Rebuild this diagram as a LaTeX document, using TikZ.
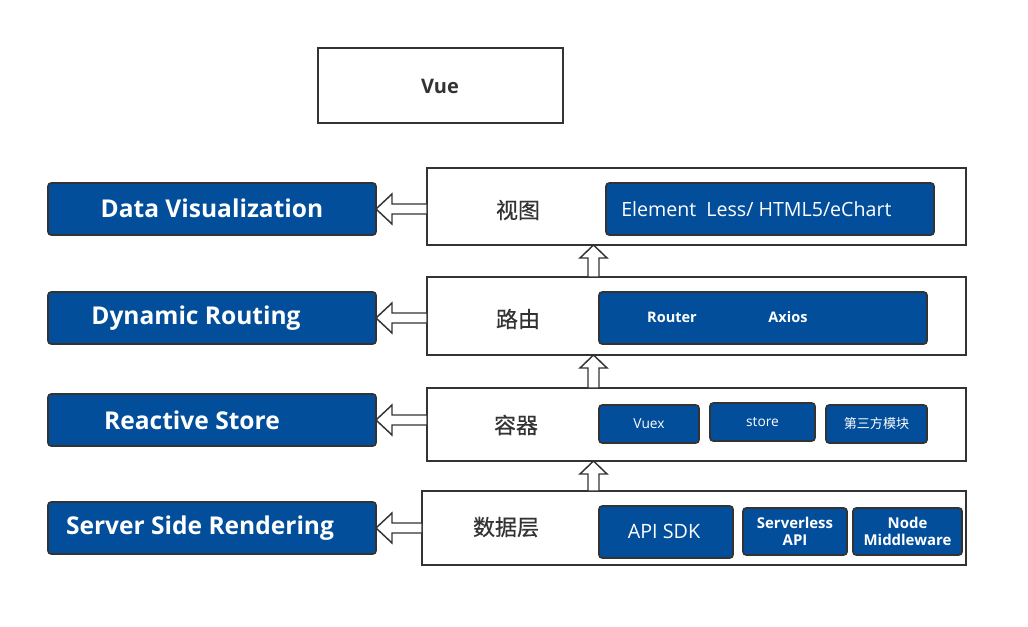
\documentclass[tikz,border=0pt]{standalone}
\usepackage{fontspec}
\setmainfont{Open Sans}
\newfontfamily\cjk{Noto Sans CJK SC}
\newfontfamily\cjkm[FakeBold=0.5]{Noto Sans CJK SC}
\usetikzlibrary{calc}
\definecolor{vblue}{RGB}{2,78,154}
\definecolor{edge}{RGB}{51,51,51}
\definecolor{txt}{RGB}{51,51,51}
\tikzset{
  sz/.style 2 args={minimum width=#1*0.75pt, minimum height=#2*0.75pt},
  whitebox/.style={draw=edge, line width=1.5pt, fill=white, inner sep=0pt, outer sep=0pt},
  bluebox/.style={draw=edge, line width=1.3pt, fill=vblue, rounded corners=2.5pt, inner sep=0pt, outer sep=0pt},
  lbl/.style={inner sep=0pt, text=txt},
  wlbl/.style={inner sep=0pt, text=white},
  blk/.style={draw=edge, line width=1.1pt, fill=white, line join=miter},
}
\newcommand{\LArrowBlk}[2]{% from box #1 (right) to box #2 (left)
  \draw[blk] (#2.east) -- ++(16,-15) -- ++(0,10) -- ($(#2.east -| #1.west)+(0,-5)$)
    -- ++(0,10) -- ($(#2.east)+(16,5)$) -- ++(0,10) -- cycle;}
\newcommand{\UArrowBlk}[2]{% from box #1 (below) to box #2 (above)
  \draw[blk] (#2.south -| ax) -- ++(13.5,13) -- ++(-8,0) -- ($(#1.north -| ax)+(5.5,0)$)
    -- ++(-11,0) -- ($(#2.south -| ax)+(-5.5,13)$) -- ++(-8,0) -- cycle;}
\begin{document}
\begin{tikzpicture}[x=0.75pt, y=-0.75pt]
\useasboundingbox (0,0) rectangle (1028,627);
\fill[white] (0,0) rectangle (1028,627);
\coordinate (ax) at (593.5,0);

% top
\node[whitebox, sz={245}{75}] (vue) at (440.5,85.5) {};
\node[lbl, font=\fontsize{15}{18}\selectfont\bfseries] (vuet) at (440,86) {Vue};

% left column
\node[bluebox, sz={328}{52}] (dv) at (212,209) {};
\node[bluebox, sz={328}{52}] (dr) at (212,318) {};
\node[bluebox, sz={328}{52}] (rs) at (212,420) {};
\node[bluebox, sz={328}{52}] (ssr) at (212,528) {};
\begin{scope}[every node/.style={wlbl, font=\fontsize{18.4}{21}\selectfont\bfseries}]
\node (dvt) at (212,208) {Data Visualization};
\node (drt) at (196,318) {Dynamic Routing};
\node (rst) at (192,420) {Reactive Store};
\node (ssrt) at (200,528) {Server Side Rendering};
\end{scope}

% right column
\node[whitebox, sz={539}{77}] (view) at (696.5,206.5) {};
\node[whitebox, sz={539}{78}] (route) at (696.5,316) {};
\node[whitebox, sz={539}{73}] (cont) at (696.5,424.5) {};
\node[whitebox, sz={544}{74}] (data) at (694,528) {};
\begin{scope}[every node/.style={lbl, font=\cjkm\fontsize{16.5}{20}\selectfont}]
\node (viewt) at (518,210) {视图};
\node (routet) at (518,319) {路由};
\node (contt) at (516,425) {容器};
\node (datat) at (506,527) {数据层};
\end{scope}

% inner boxes
\node[bluebox, sz={328}{52}] (el) at (770,209) {};
\node[wlbl, anchor=west, font=\fontsize{14.7}{17}\selectfont] (elt) at (621,209) {Element\ \ Less/ HTML5/eChart};
\node[bluebox, sz={328}{52}] (ra) at (763,318) {};
\node[wlbl, font=\fontsize{10.9}{13}\selectfont\bfseries] (rat) at (672,317.5) {Router};
\node[wlbl, font=\fontsize{10.9}{13}\selectfont\bfseries] (axt) at (788,317.5) {Axios};

\node[bluebox, sz={100}{38}] (vuex) at (649,424) {};
\node[wlbl, font=\fontsize{10.3}{13}\selectfont] (vuext) at (649,424) {Vuex};
\node[bluebox, sz={105}{38}] (st) at (762.5,422) {};
\node[wlbl, font=\fontsize{10.3}{13}\selectfont] (stt) at (762.5,422) {store};
\node[bluebox, sz={101}{38}] (third) at (876.5,424) {};
\node[wlbl, font=\cjk\fontsize{9.8}{12}\selectfont] (thirdt) at (876.5,424) {第三方模块};

\node[bluebox, sz={134}{52}] (api) at (666,532) {};
\node[wlbl, font=\fontsize{14.8}{18}\selectfont] (apit) at (664,531) {API SDK};
\node[bluebox, sz={104}{47}] (sls) at (795,531.5) {};
\node[wlbl, align=center, font=\fontsize{11.2}{12.8}\selectfont\bfseries] (slst) at (795,531.5) {Serverless\\API};
\node[bluebox, sz={109}{47}] (nm) at (907.5,531.5) {};
\node[wlbl, align=center, font=\fontsize{11.2}{12.8}\selectfont\bfseries] (nmt) at (907.5,531.5) {Node\\Middleware};

% arrows
\LArrowBlk{view}{dv}
\LArrowBlk{route}{dr}
\LArrowBlk{cont}{rs}
\LArrowBlk{data}{ssr}
\UArrowBlk{route}{view}
\UArrowBlk{cont}{route}
\UArrowBlk{data}{cont}
\end{tikzpicture}
\end{document}
